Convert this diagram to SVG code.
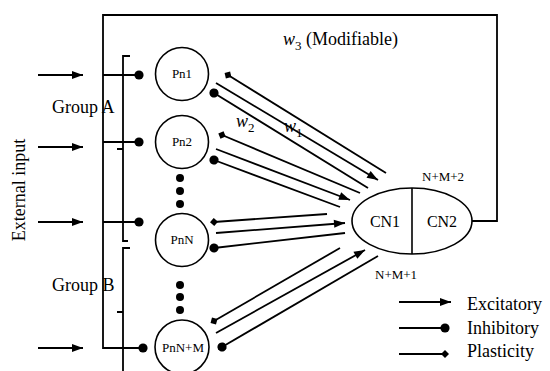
<svg xmlns="http://www.w3.org/2000/svg" width="550" height="371" viewBox="0 0 550 371">
<defs>
<style>
.ln{stroke:#000;stroke-width:1.8;fill:none}
.nd{stroke:#000;stroke-width:1.6;fill:#fff}
.t{font-family:"Liberation Serif","Times New Roman",serif;fill:#000}
.lbl{font-size:18px}
.pn{font-size:13px;text-anchor:middle}
.cn{font-size:16px;text-anchor:middle}
.sm{font-size:13px}
.ex{marker-end:url(#arr)}
.ih{marker-start:url(#dot)}
.pl{marker-start:url(#dia)}
</style>
<marker id="arr" markerUnits="userSpaceOnUse" markerWidth="12" markerHeight="8" refX="11" refY="4" orient="auto" overflow="visible"><path d="M0,0 L11,4 L0,8 z" fill="#000"/></marker>
<marker id="dot" markerUnits="userSpaceOnUse" markerWidth="10" markerHeight="10" refX="0" refY="0" orient="auto" overflow="visible"><circle cx="0" cy="0" r="4.6" fill="#000"/></marker>
<marker id="dotE" markerUnits="userSpaceOnUse" markerWidth="10" markerHeight="10" refX="0" refY="0" orient="auto" overflow="visible"><circle cx="0" cy="0" r="4.6" fill="#000"/></marker>
<marker id="dia" markerUnits="userSpaceOnUse" markerWidth="10" markerHeight="8" refX="0" refY="0" orient="auto" overflow="visible"><path d="M-4,0 L0,-4 L4,0 L0,4 z" fill="#000"/></marker>
</defs>
<rect width="550" height="371" fill="#fff"/>

<g id="connectors">
<!-- feedback loop and input bus -->
<path class="ln" d="M472,221 H497 V15 H103 V348 H139"/>
<line class="ln" x1="103" y1="75" x2="139" y2="75" marker-end="url(#dotE)"/>
<line class="ln" x1="103" y1="142" x2="139" y2="142" marker-end="url(#dotE)"/>
<line class="ln" x1="103" y1="222" x2="139" y2="222" marker-end="url(#dotE)"/>
<line class="ln" x1="139" y1="348" x2="143" y2="348" marker-end="url(#dotE)"/>
<!-- external input arrows -->
<line class="ln ex" x1="38" y1="75" x2="83" y2="75"/>
<line class="ln ex" x1="38" y1="147" x2="83" y2="147"/>
<line class="ln ex" x1="38" y1="222" x2="83" y2="222"/>
<line class="ln ex" x1="38" y1="348" x2="83" y2="348"/>
<!-- group braces -->
<path class="ln" d="M130,56 H123 V241 H128 M123,149 H117"/>
<path class="ln" d="M130,248 H123 V371 M123,312 H117"/>
<!-- Pn1 -->
<line class="ln pl" x1="228" y1="75" x2="386" y2="173"/>
<line class="ln ex" x1="216" y1="83" x2="378" y2="180"/>
<line class="ln ih" x1="214" y1="93" x2="368" y2="188"/>
<!-- Pn2 -->
<line class="ln pl" x1="222" y1="135" x2="360" y2="193"/>
<line class="ln ex" x1="216" y1="149" x2="350" y2="200"/>
<line class="ln ih" x1="214" y1="160" x2="340" y2="207"/>
<!-- PnN -->
<line class="ln pl" x1="214" y1="222" x2="327" y2="214"/>
<line class="ln ex" x1="216" y1="233" x2="345" y2="223"/>
<line class="ln ih" x1="214" y1="248" x2="345" y2="233"/>
<!-- PnN+M -->
<line class="ln pl" x1="214" y1="321" x2="340" y2="248"/>
<line class="ln ex" x1="216" y1="333" x2="365" y2="250"/>
<line class="ln ih" x1="222" y1="347" x2="378" y2="256"/>
</g>

<g id="Pn1"><circle class="nd" cx="182" cy="74" r="26.5"/><text class="t pn" x="182" y="78">Pn1</text></g>
<g id="Pn2"><circle class="nd" cx="182" cy="142" r="26.5"/><text class="t pn" x="182" y="146">Pn2</text></g>
<g id="PnN"><circle class="nd" cx="182" cy="240" r="26.5"/><text class="t pn" x="182" y="244">PnN</text></g>
<g id="PnNM"><circle class="nd" cx="182" cy="347" r="27"/><text class="t pn" x="183" y="352">PnN+M</text></g>

<g id="dots">
<circle cx="180" cy="178" r="4"/><circle cx="180" cy="191" r="4"/><circle cx="180" cy="204" r="4"/>
<circle cx="180" cy="285" r="4"/><circle cx="180" cy="297" r="4"/><circle cx="180" cy="310" r="4"/>
</g>

<g id="CN">
<ellipse class="nd" cx="412" cy="221" rx="60" ry="33"/>
<line class="ln" x1="412" y1="188" x2="412" y2="254" style="stroke-width:1.6"/>
<text class="t cn" x="385" y="227">CN1</text>
<text class="t cn" x="442" y="227">CN2</text>
<text class="t sm" x="422" y="181">N+M+2</text>
<text class="t sm" x="375" y="279">N+M+1</text>
</g>

<g id="labels">
<text class="t lbl" x="52" y="113">Group A</text>
<text class="t lbl" x="52" y="291">Group B</text>
<text class="t lbl" text-anchor="middle" transform="translate(25,190) rotate(-90)">External input</text>
<text class="t lbl" x="283" y="45"><tspan font-style="italic">w</tspan><tspan font-size="13" dy="5">3</tspan><tspan dy="-5"> (Modifiable)</tspan></text>
<text class="t lbl" x="236" y="127"><tspan font-style="italic">w</tspan><tspan font-size="13" dy="5">2</tspan></text>
<text class="t lbl" x="284" y="132"><tspan font-style="italic">w</tspan><tspan font-size="13" dy="5">1</tspan></text>
</g>

<g id="legend">
<line class="ln ex" x1="399" y1="302" x2="451" y2="302"/>
<line class="ln" x1="399" y1="328" x2="445" y2="328" marker-end="url(#dotE)"/>
<line class="ln" x1="399" y1="354" x2="445" y2="354" marker-end="url(#dia)"/>
<text class="t lbl" x="467" y="310">Excitatory</text>
<text class="t lbl" x="467" y="334">Inhibitory</text>
<text class="t lbl" x="467" y="357">Plasticity</text>
</g>
</svg>
